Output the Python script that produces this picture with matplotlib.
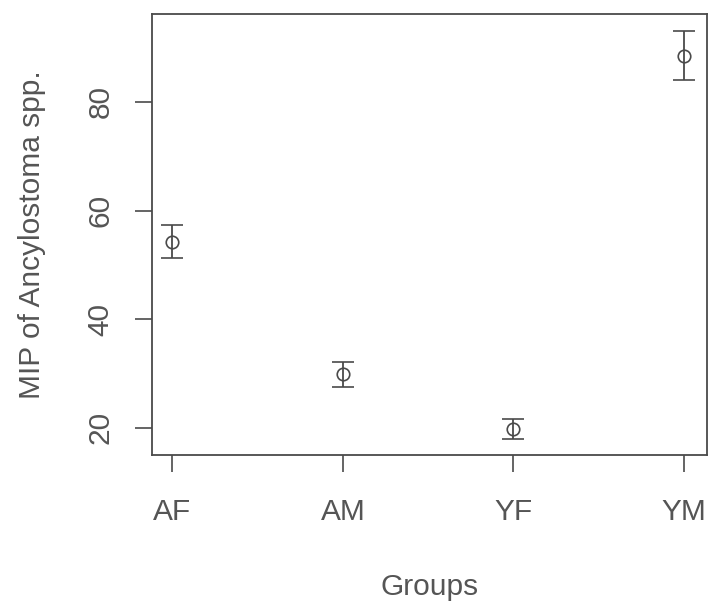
import matplotlib
matplotlib.use("Agg")
import matplotlib.pyplot as plt
import numpy as np

groups = ["AF", "AM", "YF", "YM"]
mip = [54.3, 29.9, 19.8, 88.5]
err = [3.1, 2.3, 1.9, 4.5]
yticks = [20, 40, 60, 80]

plt.rcParams['font.family'] = ['Liberation Sans', 'DejaVu Sans']
ink = "#4a4a4a"
txt = "#555555"

fig = plt.figure(figsize=(7.09, 6.07), dpi=100)
ax = fig.add_axes([152/709, 1 - 455/607, (707-152)/709, (455-14)/607])

x = np.arange(1, len(groups) + 1)
ax.errorbar(x, mip, yerr=err, fmt='o', mfc='none', mec=ink, ms=9, mew=1.2,
            ecolor=ink, elinewidth=1.3, capsize=8, capthick=1.3, color=ink)

ax.set_xlim(0.88, 4.135)
ax.set_ylim(15.0, 96.2)
ax.set_xticks(x)
ax.set_xticklabels(groups)
ax.set_yticks(yticks)
ax.set_yticklabels([str(v) for v in yticks], rotation=90, va='center')

for s in ax.spines.values():
    s.set_color(ink)
    s.set_linewidth(1.3)

fs = 21.5
ax.tick_params(axis='both', colors=ink, labelcolor=txt, labelsize=fs,
               length=12, width=1.2)
ax.tick_params(axis='x', pad=19)
ax.tick_params(axis='y', pad=15)

ax.set_xlabel("Groups", fontsize=fs, color=txt, labelpad=34)
ax.set_ylabel("MIP of Ancylostoma spp.", fontsize=fs, color=txt, labelpad=29)

fig.savefig("out.png", dpi=100)
